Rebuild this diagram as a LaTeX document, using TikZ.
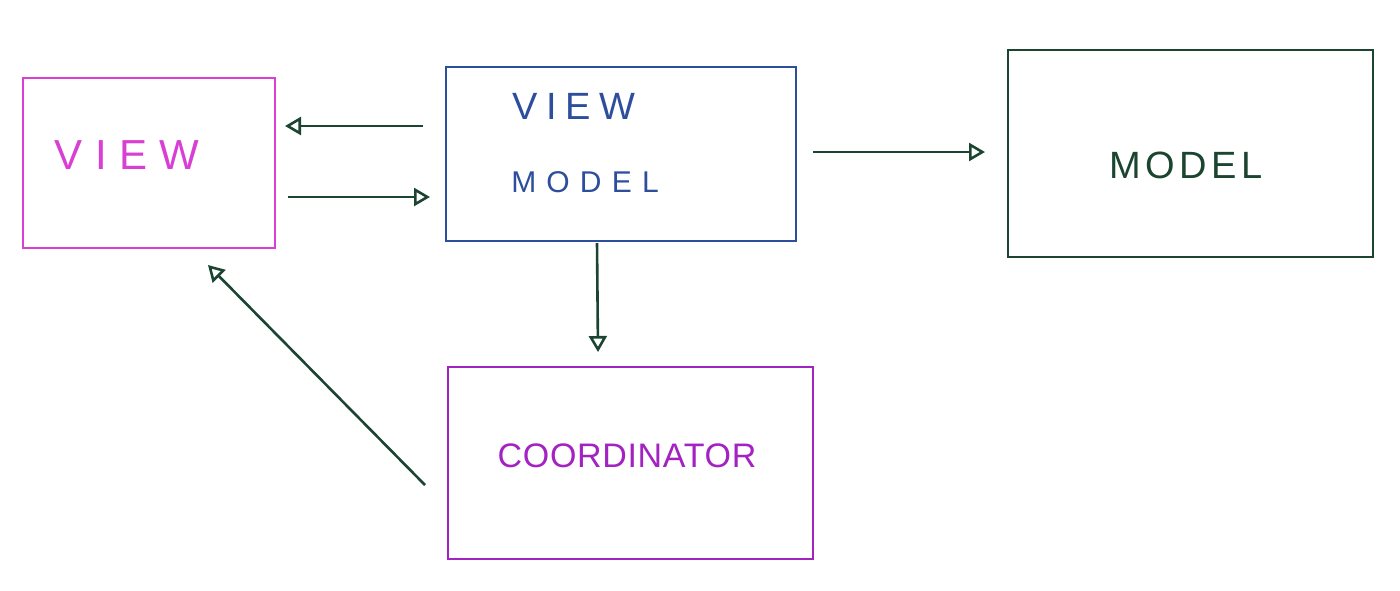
\documentclass[tikz,border=0pt]{standalone}
\usepackage{fontspec}
\setmainfont{Liberation Sans}
\usetikzlibrary{arrows.meta}
\definecolor{cpink}{HTML}{D83FD2}
\definecolor{cblue}{HTML}{2D4E9C}
\definecolor{cgreen}{HTML}{1B4530}
\definecolor{cpurple}{HTML}{A322C2}
\newfontfamily\handA[LetterSpace=30]{Liberation Sans}
\newfontfamily\handB[LetterSpace=22]{Liberation Sans}
\newfontfamily\handC[LetterSpace=34]{Liberation Sans}
\newfontfamily\handD[LetterSpace=12]{Liberation Sans}
\newfontfamily\handE[LetterSpace=2]{Liberation Sans}
\begin{document}
\begin{tikzpicture}[x=0.5pt,y=-0.5pt,
  box/.style={draw, line width=1.2pt, inner sep=0pt, fill=none},
  lbl/.style={inner sep=0pt, anchor=center},
  arr/.style={draw=cgreen, line width=1.3pt, -{Triangle[open, length=8pt, width=9pt]}}]
\useasboundingbox (0,0) rectangle (1400,590);
% boxes
\node[box, draw=cpink, minimum width=126pt, minimum height=85pt] (view) at (149,163) {};
\node[box, draw=cblue, minimum width=175pt, minimum height=87pt] (vm) at (621,154) {};
\node[box, draw=cgreen, minimum width=182.5pt, minimum height=103.5pt] (model) at (1190.5,153.5) {};
\node[box, draw=cpurple, minimum width=182.5pt, minimum height=96pt] (coord) at (630.5,463) {};
% labels
\node[lbl, text=cpink, font=\handA\fontsize{21}{24}\selectfont] (tview) at (127,155) {VIEW};
\node[lbl, text=cblue, font=\handB\fontsize{19}{22}\selectfont] (tvm1) at (574,106) {VIEW};
\node[lbl, text=cblue, font=\handC\fontsize{15}{18}\selectfont] (tvm2) at (585,182) {MODEL};
\node[lbl, text=cgreen, font=\handD\fontsize{19}{22}\selectfont] (tmodel) at (1186,165) {MODEL};
\node[lbl, text=cpurple, font=\handE\fontsize{17}{20}\selectfont] (tcoord) at (627,456) {COORDINATOR};
% connector end points
\coordinate (a1s) at (423,126); \coordinate (a1e) at (285,126);
\coordinate (a2s) at (288,197); \coordinate (a2e) at (430,197);
\coordinate (a3s) at (813,152); \coordinate (a3e) at (985,152);
\coordinate (a4s) at (597,243); \coordinate (a4e) at (598,352);
\coordinate (a5s) at (425,485); \coordinate (a5e) at (208,265);
\draw[arr] (a1s) -- (a1e);
\draw[arr] (a2s) -- (a2e);
\draw[arr] (a3s) -- (a3e);
\draw[arr] (a4s) -- (a4e);
\draw[arr] (a5s) -- (a5e);
\end{tikzpicture}
\end{document}
